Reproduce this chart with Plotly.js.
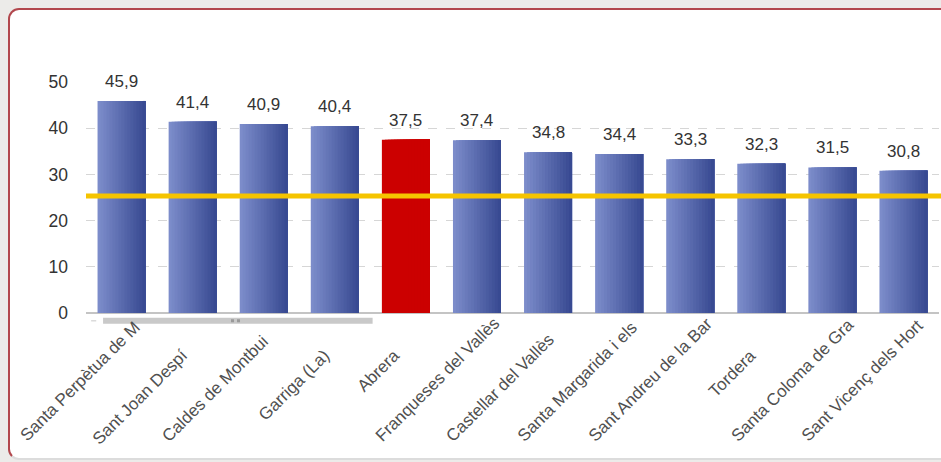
<!DOCTYPE html>
<html>
<head>
<meta charset="utf-8">
<script src="https://cdn.plot.ly/plotly-3.0.1.min.js"></script>
<style>
  html, body { margin: 0; padding: 0; width: 941px; height: 462px; overflow: hidden; background: #ecebe9; }
  #panel { position: absolute; left: 8px; top: 8px; width: 980px; height: 448px; background: #ffffff;
           border: 2px solid #b2474d; border-bottom: 2px solid #dcdcdc; border-radius: 11px; }
  #chart { position: absolute; left: 0; top: 0; width: 941px; height: 462px; }
</style>
</head>
<body>
<div id="panel"></div>
<div id="chart"></div>
<script>
// ---- data ----
const municipalities = [
  "Santa Perpètua de M", "Sant Joan Despí", "Caldes de Montbui", "Garriga (La)",
  "Abrera", "Franqueses del Vallès", "Castellar del Vallès", "Santa Margarida i els",
  "Sant Andreu de la Bar", "Tordera", "Santa Coloma de Gra", "Sant Vicenç dels Hort"
];
const values = [45.9, 41.4, 40.9, 40.4, 37.5, 37.4, 34.8, 34.4, 33.3, 32.3, 31.5, 30.8];
const highlighted = "Abrera";
const referenceValue = 25.3;
const yTicks = [0, 10, 20, 30, 40, 50];

// ---- styling ----
const FONT = "Liberation Sans, Arial, sans-serif";
const barWidth = 0.675;
const slices = 16;
const leftColor = [124, 140, 202];
const rightColor = [56, 74, 146];
const highlightColor = "#cc0000";
const W = 941, H = 462;
const margin = { l: 86, r: 2, t: 82, b: 149 };
const plotH = H - margin.t - margin.b;
const labelSize = 17;

function mix(a, b, t) {
  return "rgb(" + a.map((v, i) => Math.round(v + (b[i] - v) * t)).join(",") + ")";
}

const traces = [];
for (let k = 0; k < slices; k++) {
  const t = k / (slices - 1);
  const col = mix(leftColor, rightColor, t);
  const sw = barWidth / slices;
  traces.push({
    type: "bar",
    x: municipalities,
    y: values,
    width: barWidth - k * sw,
    offset: -barWidth / 2 + k * sw,
    marker: {
      color: municipalities.map(m => m === highlighted ? highlightColor : col),
      line: { width: 0 }
    },
    hoverinfo: "skip",
    showlegend: false
  });
}

const valueLabels = municipalities.map((m, i) => ({
  x: m, y: values[i], xref: "x", yref: "y",
  text: values[i].toFixed(1).replace(".", ","),
  showarrow: false, yanchor: "bottom", yshift: 8,
  font: { family: FONT, size: 17, color: "#333333" }
}));

// category labels: rotated, anchored at their top end unless too long,
// in which case anchored at a fixed bottom-left point (like the original widget)
const ctx = document.createElement("canvas").getContext("2d");
ctx.font = labelSize + "px 'Liberation Sans'";
const topPx = 30;      // px below axis for the top end of short labels
const bottomPx = 135;  // px below axis for the bottom of long labels
const categoryLabels = municipalities.map(m => {
  const w = ctx.measureText(m).width;
  const side = (w + labelSize * 1.1) / Math.SQRT2;
  const fits = topPx + side <= bottomPx;
  return fits ? {
    x: m, xref: "x", yref: "paper", y: -topPx / plotH,
    xanchor: "right", yanchor: "top", xshift: 1,
    text: m, textangle: -45, showarrow: false,
    font: { family: FONT, size: labelSize, color: "#505050" }
  } : {
    x: m, xref: "x", yref: "paper", y: -bottomPx / plotH,
    xanchor: "left", yanchor: "bottom", xshift: -108,
    text: m, textangle: -45, showarrow: false,
    font: { family: FONT, size: labelSize, color: "#505050" }
  };
});

const layout = {
  width: W,
  height: H,
  margin: margin,
  paper_bgcolor: "rgba(0,0,0,0)",
  plot_bgcolor: "rgba(0,0,0,0)",
  barmode: "overlay",
  showlegend: false,
  hovermode: false,
  font: { family: FONT, color: "#333333" },
  xaxis: {
    type: "category",
    range: [-0.5, municipalities.length - 0.5],
    showticklabels: false,
    ticks: "",
    showgrid: false,
    showline: false,
    zeroline: false,
    fixedrange: true
  },
  yaxis: {
    range: [0, 50],
    tickvals: yTicks,
    tickfont: { size: 17.5, color: "#333333" },
    ticks: "",
    ticklabelstandoff: 17,
    showgrid: true,
    gridcolor: "#d6d6d6",
    griddash: "dash",
    gridwidth: 1,
    zeroline: true,
    zerolinecolor: "#c4c4c4",
    zerolinewidth: 2,
    showline: false,
    fixedrange: true
  },
  annotations: valueLabels.concat(categoryLabels),
  shapes: [
    { type: "line", xref: "paper", yref: "y", x0: 0, x1: 1.003, y0: referenceValue, y1: referenceValue,
      line: { color: "#f5c400", width: 5 }, layer: "above" },
    // scroller decoration
    { type: "line", xref: "paper", yref: "paper", x0: 0.02, x1: 0.336, y0: -0.034, y1: -0.034,
      line: { color: "#c9c9c9", width: 6 }, layer: "above" },
    { type: "line", xref: "paper", yref: "paper", x0: 0.17, x1: 0.184, y0: -0.034, y1: -0.034,
      line: { color: "#9a9a9a", width: 3, dash: "dot" }, layer: "above" },
    { type: "line", xref: "paper", yref: "paper", x0: 0.006, x1: 0.012, y0: -0.034, y1: -0.034,
      line: { color: "#c9c9c9", width: 1 }, layer: "above" }
  ]
};

Plotly.newPlot("chart", traces, layout, { displayModeBar: false, staticPlot: true });
</script>
</body>
</html>
